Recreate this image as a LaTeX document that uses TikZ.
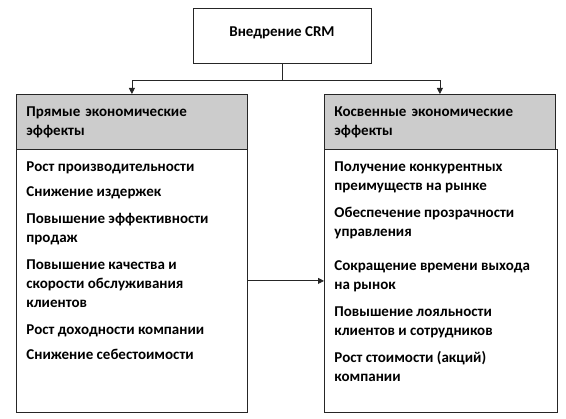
\documentclass[tikz,border=0pt]{standalone}
\usepackage{fontspec}
\setmainfont{Carlito}
\usetikzlibrary{arrows.meta}

\begin{document}
\begin{tikzpicture}[x=1pt, y=-1pt, font=\fontsize{15}{19}\selectfont\bfseries,
    box/.style={draw=black!85, line width=0.8pt, inner sep=0pt},
    headbox/.style={box, fill=black!20, anchor=north west, minimum width=231pt, minimum height=55pt,
        text width=211pt, align=left},
    bodybox/.style={box, anchor=north west, inner xsep=10pt, inner ysep=0pt},
    tip/.style={-{Triangle[length=6pt, width=6pt]}, line width=0.8pt, draw=black!85}]
    \useasboundingbox (0,0) rectangle (566,419);

    % Top box
    \node[box, minimum width=178pt, minimum height=55pt] (crm) at (282,35.5) {\raisebox{7pt}{Внедрение CRM}};

    % Headers of the two columns
    \node[headbox] (lhead) at (16,94) {Прямые экономические\\эффекты};
    \node[headbox] (rhead) at (324,94) {Косвенные экономические\\эффекты};

    % Lists of effects
    \node[bodybox] (lbody) at (16,149) {\parbox[t][263pt][t]{211pt}{\vspace{12pt}%
        Рост производительности\\[6pt]
        Снижение издержек\\[8pt]
        Повышение эффективности\\продаж\\[8pt]
        Повышение качества и\\скорости обслуживания\\клиентов\\[8pt]
        Рост доходности компании\\[6pt]
        Снижение себестоимости}};
    \node[bodybox] (rbody) at (324,149) {\parbox[t][263pt][t]{213pt}{\vspace{12pt}%
        Получение конкурентных\\преимуществ на рынке\\[8pt]
        Обеспечение прозрачности\\управления\\[15pt]
        Сокращение времени выхода\\на рынок\\[8pt]
        Повышение лояльности\\клиентов и сотрудников\\[8pt]
        Рост стоимости (акций)\\компании}};

    % Connectors
    \coordinate (fork) at (282,80);
    \draw[line width=0.8pt, draw=black!85] (crm.south) -- (fork);
    \draw[tip] (fork) -| (lhead.north);
    \draw[tip] (fork) -| (rhead.north);
    \draw[tip] (lbody.east) -- (rbody.west);
\end{tikzpicture}
\end{document}
